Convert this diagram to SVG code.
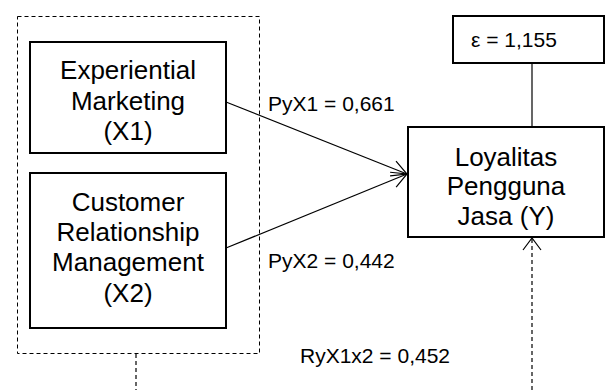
<svg xmlns="http://www.w3.org/2000/svg" width="606" height="390" viewBox="0 0 606 390">
  <style>
    .box { fill: #ffffff; stroke: #000000; stroke-width: 2; }
    .frame { fill: none; stroke: #000000; stroke-width: 1; stroke-dasharray: 4 3; }
    .line { fill: none; stroke: #000000; stroke-width: 1.2; }
    .dash { fill: none; stroke: #000000; stroke-width: 1.2; stroke-dasharray: 4 3; }
    .head { fill: none; stroke: #000000; stroke-width: 1.2; }
    .big { font-family: "Liberation Sans", Arial, sans-serif; font-size: 26px; fill: #000000; text-anchor: middle; }
    .small { font-family: "Liberation Sans", Arial, sans-serif; font-size: 21px; fill: #000000; }
  </style>
  <defs>
    <marker id="open-arrow" markerUnits="userSpaceOnUse" orient="auto" refX="0" refY="0" markerWidth="30" markerHeight="30" overflow="visible">
      <path class="head" d="M-15,-8 L0,0 L-15,8"/>
    </marker>
    <marker id="open-arrow-wide" markerUnits="userSpaceOnUse" orient="auto" refX="0" refY="0" markerWidth="30" markerHeight="30" overflow="visible">
      <path class="head" d="M-12,-9 L0,0 L-12,9"/>
    </marker>
  </defs>

  <rect width="606" height="390" fill="#ffffff"/>

  <!-- dashed grouping frame around the independent variables -->
  <g id="group-x">
    <rect class="frame" x="17.5" y="16.5" width="242" height="337"/>
  </g>

  <g id="connectors">
    <line class="line" x1="226" y1="102" x2="407" y2="174" marker-end="url(#open-arrow)"/>
    <line class="line" x1="226" y1="248" x2="407" y2="174" marker-end="url(#open-arrow)"/>
    <line class="line" x1="532" y1="63" x2="532" y2="127"/>
    <line class="dash" x1="136" y1="354" x2="136" y2="390"/>
    <line class="dash" x1="532" y1="390" x2="532" y2="238" marker-end="url(#open-arrow-wide)"/>
  </g>

  <g id="x1">
    <rect class="box" x="30" y="42" width="196" height="111"/>
    <text class="big" x="128" y="79">Experiential</text>
    <text class="big" x="128" y="110">Marketing</text>
    <text class="big" x="128" y="140">(X1)</text>
  </g>

  <g id="x2">
    <rect class="box" x="30" y="173" width="196" height="155"/>
    <text class="big" x="128" y="211">Customer</text>
    <text class="big" x="128" y="241">Relationship</text>
    <text class="big" x="128" y="271">Management</text>
    <text class="big" x="128" y="302">(X2)</text>
  </g>

  <g id="y">
    <rect class="box" x="408" y="127" width="196" height="110"/>
    <text class="big" x="506" y="166">Loyalitas</text>
    <text class="big" x="506" y="195">Pengguna</text>
    <text class="big" x="506" y="225">Jasa (Y)</text>
  </g>

  <g id="epsilon">
    <rect class="box" x="453" y="16" width="151" height="47"/>
    <text class="small" x="471" y="47">ε = 1,155</text>
  </g>

  <g id="labels">
    <text class="small" x="268" y="111">PyX1 = 0,661</text>
    <text class="small" x="268" y="268">PyX2 = 0,442</text>
    <text class="small" x="300" y="363">RyX1x2 = 0,452</text>
  </g>
</svg>
